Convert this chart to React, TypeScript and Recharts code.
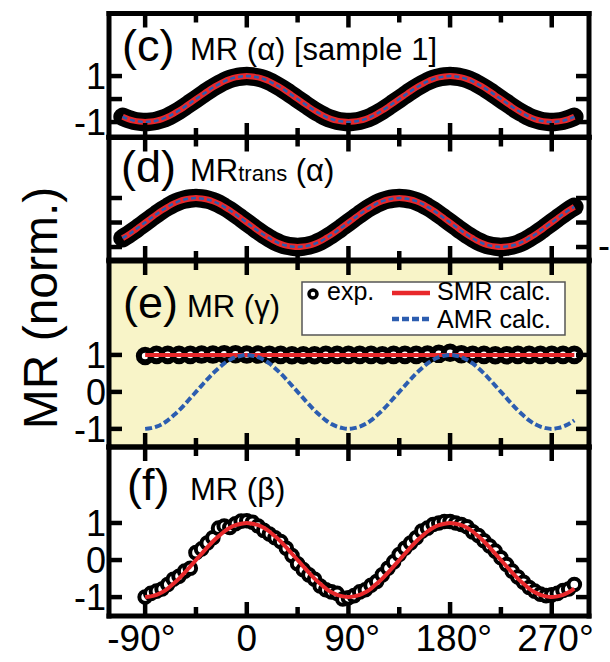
import React from 'react';
import { ComposedChart, Line, XAxis, YAxis, CartesianGrid } from 'recharts';

// ---------------- data ----------------
// panels (c), (d): field angle alpha (deg)
const alphaAngles = [
  -110, -105, -100, -95, -90,
  -85, -80, -75, -70, -65, -60, -55, -50, -45, -40, -35, -30, -25, -20, -15, -10, -5, 0,
  5, 10, 15, 20, 25, 30, 35, 40, 45, 50, 55, 60, 65, 70, 75, 80, 85, 90,
  95, 100, 105, 110, 115, 120, 125, 130, 135, 140, 145, 150, 155, 160, 165, 170, 175, 180,
  185, 190, 195, 200, 205, 210, 215, 220, 225, 230, 235, 240, 245, 250, 255, 260, 265, 270,
  275, 280, 285, 290,
];
// (c) MR(alpha), exp. and calc. coincide
const mrAlpha = [
  -0.77, -0.87, -0.94, -0.98, -1,
  -0.98, -0.94, -0.87, -0.77, -0.64, -0.5, -0.34, -0.17, 0, 0.17, 0.34, 0.5, 0.64, 0.77, 0.87, 0.94, 0.98, 1,
  0.98, 0.94, 0.87, 0.77, 0.64, 0.5, 0.34, 0.17, 0, -0.17, -0.34, -0.5, -0.64, -0.77, -0.87, -0.94, -0.98, -1,
  -0.98, -0.94, -0.87, -0.77, -0.64, -0.5, -0.34, -0.17, 0, 0.17, 0.34, 0.5, 0.64, 0.77, 0.87, 0.94, 0.98, 1,
  0.98, 0.94, 0.87, 0.77, 0.64, 0.5, 0.34, 0.17, 0, -0.17, -0.34, -0.5, -0.64, -0.77, -0.87, -0.94, -0.98, -1,
  -0.98, -0.94, -0.87, -0.77,
];
// (d) MR_trans(alpha)
const mrTransAlpha = [
  -0.64, -0.5, -0.34, -0.17, 0,
  0.17, 0.34, 0.5, 0.64, 0.77, 0.87, 0.94, 0.98, 1, 0.98, 0.94, 0.87, 0.77, 0.64, 0.5, 0.34, 0.17, 0,
  -0.17, -0.34, -0.5, -0.64, -0.77, -0.87, -0.94, -0.98, -1, -0.98, -0.94, -0.87, -0.77, -0.64, -0.5, -0.34, -0.17, 0,
  0.17, 0.34, 0.5, 0.64, 0.77, 0.87, 0.94, 0.98, 1, 0.98, 0.94, 0.87, 0.77, 0.64, 0.5, 0.34, 0.17, 0,
  -0.17, -0.34, -0.5, -0.64, -0.77, -0.87, -0.94, -0.98, -1, -0.98, -0.94, -0.87, -0.77, -0.64, -0.5, -0.34, -0.17, 0,
  0.17, 0.34, 0.5, 0.64,
];

// panels (e), (f): calc. curves
const calcAngles = [
  -90,
  -85, -80, -75, -70, -65, -60, -55, -50, -45, -40, -35, -30, -25, -20, -15, -10, -5, 0,
  5, 10, 15, 20, 25, 30, 35, 40, 45, 50, 55, 60, 65, 70, 75, 80, 85, 90,
  95, 100, 105, 110, 115, 120, 125, 130, 135, 140, 145, 150, 155, 160, 165, 170, 175, 180,
  185, 190, 195, 200, 205, 210, 215, 220, 225, 230, 235, 240, 245, 250, 255, 260, 265, 270,
  275, 280, 285, 290,
];
const amrGammaCalc = [
  -1,
  -0.98, -0.94, -0.87, -0.77, -0.64, -0.5, -0.34, -0.17, 0, 0.17, 0.34, 0.5, 0.64, 0.77, 0.87, 0.94, 0.98, 1,
  0.98, 0.94, 0.87, 0.77, 0.64, 0.5, 0.34, 0.17, 0, -0.17, -0.34, -0.5, -0.64, -0.77, -0.87, -0.94, -0.98, -1,
  -0.98, -0.94, -0.87, -0.77, -0.64, -0.5, -0.34, -0.17, 0, 0.17, 0.34, 0.5, 0.64, 0.77, 0.87, 0.94, 0.98, 1,
  0.98, 0.94, 0.87, 0.77, 0.64, 0.5, 0.34, 0.17, 0, -0.17, -0.34, -0.5, -0.64, -0.77, -0.87, -0.94, -0.98, -1,
  -0.98, -0.94, -0.87, -0.77,
];
const smrGammaAngles = [-90, 290];
const smrGammaCalc = [1, 1];
const smrBetaCalc = amrGammaCalc;

// (e) exp. MR(gamma)
const gammaExpAngles = [
  -90, -80, -70, -60, -50, -40, -30, -20, -10, 0,
  10, 20, 30, 40, 50, 60, 70, 80, 90,
  100, 110, 120, 130, 140, 150, 160, 170, 180,
  190, 200, 210, 220, 230, 240, 250, 260, 270, 280, 290,
];
const mrGammaExp = [
  0.97, 1.0, 1.0, 1.0, 1.0, 1.01, 1.01, 1.02, 1.02, 1.01,
  1.01, 1.0, 1.0, 0.99, 0.99, 0.99, 1.0, 1.0, 1.0,
  1.0, 1.0, 0.99, 1.0, 1.0, 1.0, 1.01, 1.03, 1.06,
  1.02, 1.0, 1.0, 0.99, 0.99, 1.0, 1.0, 1.0, 1.0, 1.0, 1.0,
];

// (f) exp. MR(beta)
const mrBetaExp = [
  -1.0,
  -0.9, -0.84, -0.78, -0.66, -0.52, -0.44, -0.3, -0.22, 0.2, 0.3, 0.46, 0.6, 0.86, 0.92, 0.88, 0.98, 1.05, 1.06,
  1.02, 0.92, 0.8, 0.7, 0.6, 0.5, 0.32, 0.12, -0.1, -0.26, -0.4, -0.52, -0.7, -0.8, -0.86, -0.9, -1.05, -1.02,
  -0.96, -0.86, -0.8, -0.68, -0.58, -0.4, -0.22, -0.05, 0.15, 0.32, 0.46, 0.6, 0.78, 0.86, 0.96, 1.0, 1.04, 1.04,
  1.0, 0.96, 0.9, 0.76, 0.66, 0.52, 0.38, 0.24, 0.06, -0.12, -0.3, -0.46, -0.6, -0.74, -0.84, -0.92, -0.96, -0.94,
  -0.9, -0.82, -0.78, -0.66,
];

const X_TICKS = [-90, -45, 0, 45, 90, 135, 180, 225, 270];
const X_MAJOR = [-90, 0, 90, 180, 270];
const Y_TICKS = [1, 0, -1];

// ---------------- styles ----------------
const W = 610;
const H = 662;
const FONT = '"Liberation Sans", Arial, Helvetica, sans-serif';
const X_DOMAIN: [number, number] = [-122, 303];
const PLOT_LEFT = 109;
const PLOT_RIGHT = 589;
const RED = '#e8282b';
const BLUE = '#2c5db0';
const YELLOW = '#f8f4c8';
const AXIS_LINE = { stroke: '#000', strokeWidth: 5, strokeLinecap: 'square' as const };
const TICK_W = 4.5;
const X_FONT = 37;
const Y_FONT = 36;

const rows = (xs: number[], ys: number[]) => xs.map((a, i) => ({ angle: a, v: ys[i] }));

const numWidth = (s: string, fs: number) =>
  [...s].reduce((acc, c) => acc + (c === '-' ? 0.333 : 0.556), 0) * fs;

const bottomTick = (showLabels: boolean) => (p: any) => {
  const v = p.payload.value;
  const major = X_MAJOR.includes(v);
  const len = major ? 14 : 9;
  const label = v === 0 ? '0' : `${v}\u00b0`;
  const nw = numWidth(String(v), X_FONT);
  const shift = v === 0 ? 0 : v < 0 ? 0.3 * X_FONT : 0.1 * X_FONT;
  return (
    <g>
      <line x1={p.x} x2={p.x} y1={p.y} y2={p.y - len} stroke="#000" strokeWidth={TICK_W} />
      {showLabels && major && (
        <text x={p.x - nw / 2 - shift} y={p.y + 35} fontSize={X_FONT} fontFamily={FONT} fill="#000">
          {label}
        </text>
      )}
    </g>
  );
};

const topTick = (p: any) => {
  const v = p.payload.value;
  const len = X_MAJOR.includes(v) ? 14 : 9;
  return <line x1={p.x} x2={p.x} y1={p.y} y2={p.y + len} stroke="#000" strokeWidth={TICK_W} />;
};

const leftTick = (labels: boolean[]) => (p: any) => {
  const v = p.payload.value;
  const show = labels[Y_TICKS.indexOf(v)];
  return (
    <g>
      <line x1={p.x} x2={p.x + 13} y1={p.y} y2={p.y} stroke="#000" strokeWidth={TICK_W} />
      {show && (
        <text x={p.x - 3} y={p.y} dy="0.36em" textAnchor="end" fontSize={Y_FONT} fontFamily={FONT} fill="#000">
          {String(v)}
        </text>
      )}
    </g>
  );
};

const rightTick = (p: any) => (
  <line x1={p.x} x2={p.x - 13} y1={p.y} y2={p.y} stroke="#000" strokeWidth={TICK_W} />
);

type PanelProps = {
  top: number;
  bottom: number;
  yDomain: [number, number];
  yLabels: boolean[];
  xLabels: boolean;
  bg?: string;
  under: React.ReactNode;
  over: React.ReactNode;
};

function Panel({ top, bottom, yDomain, yLabels, xLabels, bg, under, over }: PanelProps) {
  return (
    <>
      {/* bottom layer: background and experimental points */}
      <div style={{ position: 'absolute', left: 0, top: 0 }}>
        <ComposedChart
          width={W}
          height={H}
          margin={{ top, bottom: H - bottom, left: PLOT_LEFT, right: W - PLOT_RIGHT }}
        >
          {bg && (
            <CartesianGrid xAxisId="b" yAxisId="l" fill={bg} fillOpacity={1} stroke="none" horizontal={false} vertical={false} />
          )}
          {under}
          <XAxis xAxisId="b" hide type="number" dataKey="angle" domain={X_DOMAIN} allowDataOverflow />
          <YAxis yAxisId="l" hide type="number" domain={yDomain} allowDataOverflow />
        </ComposedChart>
      </div>
      {/* top layer: calculated curves and the frame with inward ticks */}
      <div style={{ position: 'absolute', left: 0, top: 0 }}>
        <ComposedChart
          width={W}
          height={H}
          margin={{ top: top - 1, bottom: H - bottom - 1, left: PLOT_LEFT - 1, right: W - PLOT_RIGHT - 1 }}
        >
          {over}
          <XAxis
            xAxisId="b"
            orientation="bottom"
            type="number"
            dataKey="angle"
            domain={X_DOMAIN}
            allowDataOverflow
            ticks={X_TICKS}
            interval={0}
            height={1}
            tickSize={0}
            tickMargin={0}
            tickLine={false}
            axisLine={AXIS_LINE}
            tick={bottomTick(xLabels)}
          />
          <XAxis
            xAxisId="t"
            orientation="top"
            type="number"
            dataKey="angle"
            domain={X_DOMAIN}
            allowDataOverflow
            ticks={X_TICKS}
            interval={0}
            height={1}
            tickSize={0}
            tickMargin={0}
            tickLine={false}
            axisLine={AXIS_LINE}
            tick={topTick}
          />
          <YAxis
            yAxisId="l"
            orientation="left"
            type="number"
            domain={yDomain}
            allowDataOverflow
            ticks={Y_TICKS}
            interval={0}
            width={1}
            tickSize={0}
            tickMargin={0}
            tickLine={false}
            axisLine={AXIS_LINE}
            tick={leftTick(yLabels)}
          />
          <YAxis
            yAxisId="r"
            orientation="right"
            type="number"
            domain={yDomain}
            allowDataOverflow
            ticks={Y_TICKS}
            interval={0}
            width={1}
            tickSize={0}
            tickMargin={0}
            tickLine={false}
            axisLine={AXIS_LINE}
            tick={rightTick}
          />
        </ComposedChart>
      </div>
    </>
  );
}

export default function App() {
  const cData = rows(alphaAngles, mrAlpha);
  const dData = rows(alphaAngles, mrTransAlpha);
  const eExp = rows(gammaExpAngles, mrGammaExp);
  const eSmr = rows(smrGammaAngles, smrGammaCalc);
  const eAmr = rows(calcAngles, amrGammaCalc);
  const fExp = rows(calcAngles, mrBetaExp);
  const fSmr = rows(calcAngles, smrBetaCalc);

  const band = (data: any[]) => (
    <Line xAxisId="b" yAxisId="l" data={data} dataKey="v" type="monotone" stroke="#000" strokeWidth={18.5}
      strokeLinecap="round" strokeLinejoin="round" dot={false} isAnimationActive={false} />
  );
  const calcPair = (data: any[]) => (
    <>
      <Line xAxisId="b" yAxisId="l" data={data} dataKey="v" type="monotone" stroke={RED} strokeWidth={6} dot={false} isAnimationActive={false} />
      <Line xAxisId="b" yAxisId="l" data={data} dataKey="v" type="monotone" stroke={BLUE} strokeWidth={2.5} strokeDasharray="5 3" dot={false} isAnimationActive={false} />
    </>
  );

  return (
    <div style={{ position: 'absolute', left: 0, top: 0, width: W, height: H, background: '#fff', overflow: 'hidden', fontFamily: FONT }}>
      {/* (c) */}
      <Panel top={13.5} bottom={137} yDomain={[-1.65, 3.72]} yLabels={[true, false, true]} xLabels={false}
        under={band(cData)} over={calcPair(cData)} />
      {/* (d) */}
      <Panel top={137.5} bottom={260} yDomain={[-1.53, 3.47]} yLabels={[false, false, false]} xLabels={false}
        under={band(dData)} over={calcPair(dData)} />
      {/* (e) */}
      <Panel top={261} bottom={447} yDomain={[-1.49, 3.54]} yLabels={[true, true, true]} xLabels={false} bg={YELLOW}
        under={
          <Line xAxisId="b" yAxisId="l" data={eExp} dataKey="v" stroke="none"
            dot={{ r: 6.3, fill: '#fff', stroke: '#000', strokeWidth: 6 }} isAnimationActive={false} />
        }
        over={
          <>
            <Line xAxisId="b" yAxisId="l" data={eSmr} dataKey="v" type="linear" stroke={RED} strokeWidth={4} dot={false} isAnimationActive={false} />
            <Line xAxisId="b" yAxisId="l" data={eAmr} dataKey="v" type="monotone" stroke={BLUE} strokeWidth={4} strokeDasharray="7 3" dot={false} isAnimationActive={false} />
          </>
        }
      />
      {/* (f) */}
      <Panel top={447} bottom={616} yDomain={[-1.51, 3.05]} yLabels={[true, true, true]} xLabels={true}
        under={
          <Line xAxisId="b" yAxisId="l" data={fExp} dataKey="v" stroke="none"
            dot={{ r: 5.8, fill: '#fff', stroke: '#000', strokeWidth: 4 }} isAnimationActive={false} />
        }
        over={
          <Line xAxisId="b" yAxisId="l" data={fSmr} dataKey="v" type="monotone" stroke={RED} strokeWidth={4} dot={false} isAnimationActive={false} />
        }
      />

      {/* annotations */}
      <svg width={W} height={H} style={{ position: 'absolute', left: 0, top: 0, pointerEvents: 'none' }} fontFamily={FONT}>
        <text x={57} y={308} transform="rotate(-90 57 308)" textAnchor="middle" fontSize={48} fill="#000">MR (norm.)</text>

        <text x={122} y={61} fontSize={45} fill="#000">(c)</text>
        <text x={190} y={60} fontSize={31} fill="#000">MR (α) [sample 1]</text>

        <text x={121} y={182} fontSize={45} fill="#000">(d)</text>
        <text x={190} y={181} fontSize={31} fill="#000">MR<tspan fontSize={22}>trans</tspan> (α)</text>

        <text x={123} y={318} fontSize={45} fill="#000">(e)</text>
        <text x={187} y={317} fontSize={31} fill="#000">MR (γ)</text>

        <text x={127} y={500} fontSize={45} fill="#000">(f)</text>
        <text x={190} y={500} fontSize={31} fill="#000">MR (β)</text>

        {/* legend */}
        <rect x={302} y={282} width={263} height={53} fill="#fff" stroke="#555" strokeWidth={1.5} />
        <circle cx={313} cy={294} r={4} fill="#fff" stroke="#000" strokeWidth={3.5} />
        <text x={327} y={300} fontSize={25} fill="#000">exp.</text>
        <line x1={392} x2={430} y1={293} y2={293} stroke={RED} strokeWidth={4.5} />
        <text x={437} y={300} fontSize={25} fill="#000">SMR calc.</text>
        <line x1={392} x2={430} y1={319} y2={319} stroke={BLUE} strokeWidth={4.5} strokeDasharray="7 3" />
        <text x={437} y={328} fontSize={25} fill="#000">AMR calc.</text>

        <text x={598} y={258} fontSize={36} fill="#000">-</text>
      </svg>
    </div>
  );
}
